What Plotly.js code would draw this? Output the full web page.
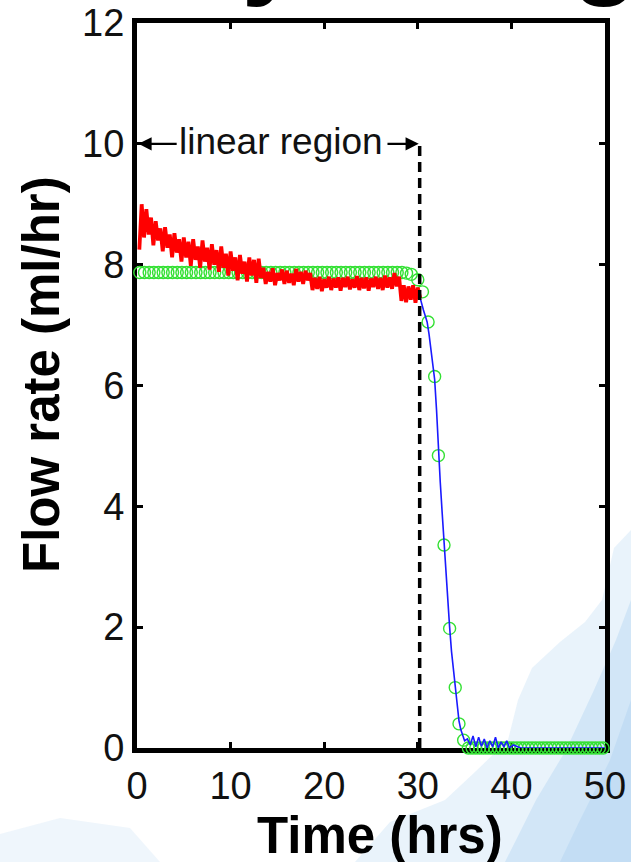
<!DOCTYPE html>
<html>
<head>
<meta charset="utf-8">
<script src="https://cdn.plot.ly/plotly-3.0.1.min.js"></script>
<style>
html,body{margin:0;padding:0;background:#fff;}
#wrap{position:relative;width:631px;height:862px;overflow:hidden;}
#chart{width:631px;height:862px;}
#slideTitle{position:absolute;left:0;top:0;pointer-events:none;}
</style>
</head>
<body>
<div id="wrap">
<div id="chart"></div>
<svg id="slideTitle" width="631" height="40" xmlns="http://www.w3.org/2000/svg"></svg>
</div>
<script>
// ---- data ----
const measuredTime = [0.25,0.5,0.75,1.0,1.25,1.5,1.75,2.0,2.25,2.5,2.75,3.0,3.25,3.5,3.75,4.0,4.25,4.5,4.75,5.0,
 5.25,5.5,5.75,6.0,6.25,6.5,6.75,7.0,7.25,7.5,7.75,8.0,8.25,8.5,8.75,9.0,9.25,9.5,9.75,10.0,
 10.25,10.5,10.75,11.0,11.25,11.5,11.75,12.0,12.25,12.5,12.75,13.0,13.25,13.5,13.75,14.0,14.25,14.5,14.75,15.0,
 15.25,15.5,15.75,16.0,16.25,16.5,16.75,17.0,17.25,17.5,17.75,18.0,18.25,18.5,18.75,19.0,19.25,19.5,19.75,20.0,
 20.25,20.5,20.75,21.0,21.25,21.5,21.75,22.0,22.25,22.5,22.75,23.0,23.25,23.5,23.75,24.0,24.25,24.5,24.75,25.0,
 25.25,25.5,25.75,26.0,26.25,26.5,26.75,27.0,27.25,27.5,27.75,28.0,28.25,28.5,28.75,29.0,29.25,29.5,29.75,30.0,30.25];
const measuredFlow = [8.25,9.0,8.45,8.92,8.5,8.78,8.32,8.72,8.4,8.6,8.22,8.62,8.28,8.5,8.12,8.52,8.2,8.42,8.05,8.45,
 8.12,8.38,7.98,8.42,8.08,8.3,7.95,8.4,8.05,8.28,7.92,8.34,8.0,8.24,7.88,8.3,7.95,8.18,7.82,8.22,
 7.9,8.12,7.74,8.16,7.85,8.05,7.72,8.12,7.82,8.08,7.7,8.1,7.78,7.95,7.68,7.88,7.72,7.94,7.66,7.86,
 7.74,7.92,7.68,7.9,7.7,7.85,7.66,7.93,7.72,7.88,7.68,7.9,7.74,7.86,7.58,7.78,7.6,7.8,7.56,7.76,
 7.62,7.8,7.58,7.77,7.62,7.79,7.57,7.78,7.63,7.8,7.59,7.76,7.62,7.81,7.58,7.78,7.61,7.79,7.57,7.77,
 7.63,7.8,7.6,7.78,7.58,7.82,7.62,7.79,7.6,7.86,7.64,7.8,7.4,7.66,7.38,7.64,7.42,7.66,7.37,7.62,7.45];

const dropTime = [30.25,30.4,30.6,30.8,31.0,31.2,31.4,31.6,31.8,32.0,32.2,32.4,32.6,32.8,33.0,33.2,33.4,33.6,33.8,34.0,
 34.2,34.4,34.6,34.8,35.0,35.3,35.6,35.9,36.2,36.5,36.8,37.1,37.4,37.7,38.0,38.3,38.6,38.9,39.2,39.5,39.8,40.2,41,42,44,46,48,50];
const dropFlow = [7.45,7.35,7.25,7.15,7.05,6.85,6.6,6.35,6.1,5.6,4.9,4.4,3.9,3.4,2.9,2.45,2.0,1.6,1.3,1.0,
 0.75,0.45,0.3,0.2,0.12,0.15,0.05,0.2,0.02,0.18,0.03,0.15,0.0,0.12,0.02,0.18,0.0,0.1,0.02,0.12,0.0,0.05,0.0,0.0,0.0,0.0,0.0,0.0];

const modelTime = [0.3,0.8,1.3,1.8,2.3,2.8,3.3,3.8,4.3,4.8,5.3,5.8,6.3,6.8,7.3,7.8,8.3,8.8,9.3,9.8,
 10.3,10.8,11.3,11.8,12.3,12.8,13.3,13.8,14.3,14.8,15.3,15.8,16.3,16.8,17.3,17.8,18.3,18.8,19.3,19.8,
 20.3,20.8,21.3,21.8,22.3,22.8,23.3,23.8,24.3,24.8,25.3,25.8,26.3,26.8,27.3,27.8,28.3,28.8,29.3,
 30.0,30.5,31.1,31.8,32.2,32.8,33.4,34.0,34.4,34.9,
 35.4,35.8,36.2,36.6,37.0,37.4,37.8,38.2,38.6,39.0,39.4,39.8,40.2,40.6,41.0,41.4,41.8,42.2,42.6,43.0,
 43.4,43.8,44.2,44.6,45.0,45.4,45.8,46.2,46.6,47.0,47.4,47.8,48.2,48.6,49.0,49.4,49.8];
const modelFlow = [7.87,7.87,7.87,7.87,7.87,7.87,7.87,7.87,7.87,7.87,7.87,7.87,7.87,7.87,7.87,7.87,7.87,7.87,7.87,7.87,
 7.87,7.87,7.87,7.87,7.87,7.87,7.87,7.87,7.87,7.87,7.87,7.87,7.87,7.87,7.87,7.87,7.87,7.87,7.87,7.87,
 7.87,7.87,7.87,7.87,7.87,7.87,7.87,7.87,7.87,7.87,7.87,7.87,7.87,7.87,7.87,7.87,7.87,7.86,7.84,
 7.75,7.55,7.05,6.15,4.84,3.36,1.98,1.0,0.4,0.13,
 0,0,0,0,0,0,0,0,0,0,0,0,0,0,0,0,0,0,0,0,
 0,0,0,0,0,0,0,0,0,0,0,0,0,0,0,0,0];

const xTicks = [0,10,20,30,40,50];
const yTicks = [0,2,4,6,8,10,12];
const xTitle = 'Time (hrs)';
const yTitle = 'Flow rate (ml/hr)';
const regionLabel = 'linear region';
const slideTitleLetters = ['y', 'g'];
const linearEnd = 30.2;
const regionLevel = 10;

// ---- layout helpers (decoration only) ----
const L = 137, R = 605, T = 23, B = 748;
function px(x){ return (x - L) / (R - L); }
function py(y){ return (B - y) / (B - T); }
function blob(pts, color){
  let d = pts.map((p,i)=> (i?'L':'M') + px(p[0]).toFixed(4) + ',' + py(p[1]).toFixed(4)).join(' ') + ' Z';
  return {type:'path', xref:'paper', yref:'paper', path:d, fillcolor:color, line:{width:0}, layer:'below'};
}

const traces = [
  {x: modelTime, y: modelFlow, type:'scatter', mode:'markers', cliponaxis:false, hoverinfo:'skip',
   marker:{symbol:'circle-open', size:12, color:'#33e033', line:{color:'#33e033', width:1.4}}},
  {x: measuredTime, y: measuredFlow, type:'scatter', mode:'lines', line:{color:'#ff0000', width:3.8}, cliponaxis:false, hoverinfo:'skip'},
  {x: dropTime, y: dropFlow, type:'scatter', mode:'lines', line:{color:'#1a1aff', width:1.6}, cliponaxis:false, hoverinfo:'skip'}
];

const FONT = '"Liberation Sans", Arial, sans-serif';
const tickFont = {family:FONT, size:38, color:'#111'};
const titleFont = {family:FONT, size:51, color:'#000'};

const layout = {
  width:631, height:862,
  margin:{l:L, r:631-R, t:T, b:862-B},
  paper_bgcolor:'#ffffff', plot_bgcolor:'rgba(0,0,0,0)',
  showlegend:false,
  xaxis:{range:[0,50], tickvals:xTicks, ticktext:xTicks.map(String), showgrid:false, zeroline:false,
    showline:true, linecolor:'#000', linewidth:5, mirror:'ticks', ticks:'inside', ticklen:6, tickwidth:3, tickcolor:'#000',
    tickfont:tickFont, layer:'below traces', fixedrange:true},
  yaxis:{range:[0,12], tickvals:yTicks, ticktext:yTicks.map(String), showgrid:false, zeroline:false,
    showline:true, linecolor:'#000', linewidth:5, mirror:'ticks', ticks:'inside', ticklen:6, tickwidth:3, tickcolor:'#000',
    tickfont:tickFont, layer:'below traces', fixedrange:true},
  shapes:[
    blob([[631,530],[614,548],[602,600],[585,622],[560,642],[532,668],[518,700],[508,740],[475,772],[445,800],[390,822],[355,862],[631,862]], 'rgba(175,212,240,0.28)'),
    blob([[631,600],[616,640],[594,690],[566,750],[536,800],[505,862],[631,862]], 'rgba(150,198,236,0.28)'),
    blob([[631,700],[610,760],[580,820],[560,862],[631,862]], 'rgba(140,190,235,0.22)'),
    blob([[0,834],[60,818],[130,828],[160,862],[0,862]], 'rgba(180,214,240,0.22)'),
    {type:'line', xref:'x', yref:'y', x0:linearEnd, x1:linearEnd, y0:0, y1:regionLevel, line:{color:'#000', width:3.5, dash:'10px,6px'}}
  ],
  annotations:[
    {x:px(380), y:py(835), xref:'paper', yref:'paper', text:'<b>'+xTitle+'</b>', showarrow:false,
     xanchor:'center', yanchor:'middle', font:titleFont},
    {x:px(42), y:py(375), xref:'paper', yref:'paper', text:'<b>'+yTitle+'</b>', showarrow:false, textangle:-90,
     xanchor:'center', yanchor:'middle', font:titleFont},
    {x:15.4, y:regionLevel, xref:'x', yref:'y', text:regionLabel, showarrow:false,
     font:{family:FONT, size:37, color:'#111'}, yshift:2},
    {x:0.15, y:regionLevel, ax:4.4, ay:regionLevel, xref:'x', yref:'y', axref:'x', ayref:'y', text:'', showarrow:true,
     arrowhead:2, arrowsize:1.1, arrowwidth:2.4, arrowcolor:'#000', standoff:0},
    {x:linearEnd-0.1, y:regionLevel, ax:26.6, ay:regionLevel, xref:'x', yref:'y', axref:'x', ayref:'y', text:'', showarrow:true,
     arrowhead:2, arrowsize:1.1, arrowwidth:2.4, arrowcolor:'#000', standoff:0}
  ]
};

Plotly.newPlot('chart', traces, layout, {displayModeBar:false, staticPlot:true});

// cut-off slide title above the chart: only the bottoms of two letters show
(function(){
  const svg = document.getElementById('slideTitle');
  const centers = [272, 605];
  const ns = 'http://www.w3.org/2000/svg';
  slideTitleLetters.forEach((ch, i) => {
    const t = document.createElementNS(ns, 'text');
    t.setAttribute('x', centers[i]);
    t.setAttribute('y', -16);
    t.setAttribute('text-anchor', 'middle');
    t.setAttribute('font-family', 'Liberation Sans, Arial, sans-serif');
    t.setAttribute('font-weight', 'bold');
    t.setAttribute('font-size', '110');
    t.setAttribute('fill', '#000');
    t.textContent = ch;
    svg.appendChild(t);
  });
})();
</script>
</body>
</html>
